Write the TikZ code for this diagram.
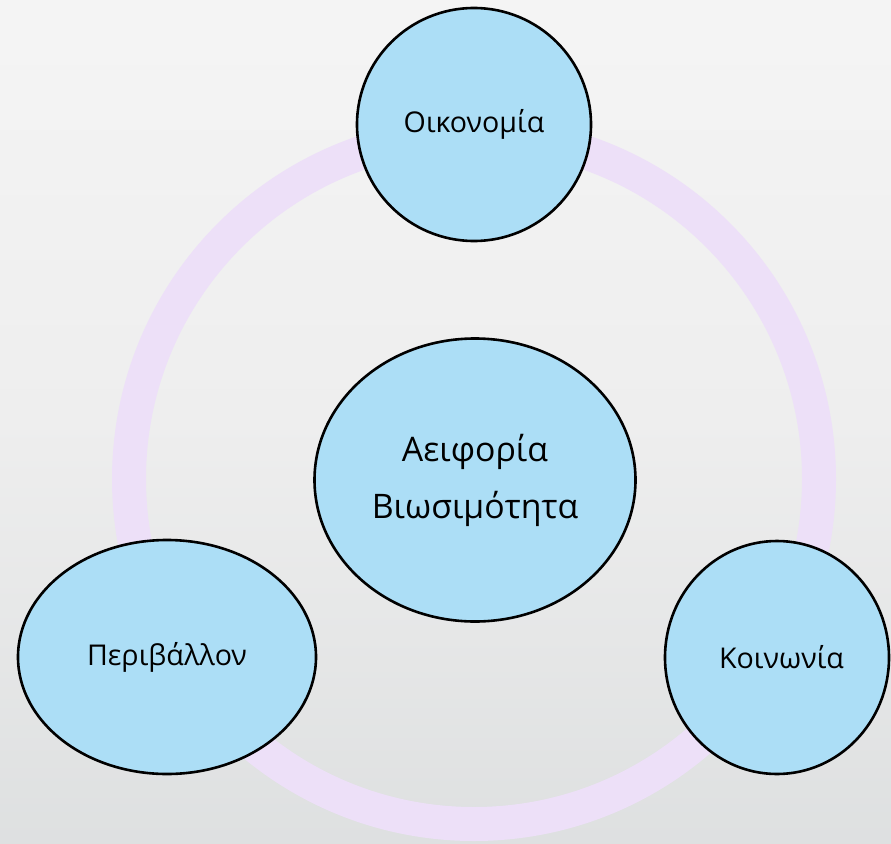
\documentclass[tikz,border=0pt]{standalone}
\usepackage{fontspec}
\setmainfont{Open Sans}
\usetikzlibrary{shapes.geometric}
\definecolor{bgtop}{RGB}{251,251,251}
\definecolor{bgmid}{RGB}{238,238,238}
\definecolor{bgbot}{RGB}{206,210,211}
\definecolor{ringcol}{RGB}{237,224,248}
\definecolor{fillblue}{RGB}{172,222,246}
\pgfdeclareverticalshading{bgshade}{100bp}{color(0bp)=(bgbot); color(50bp)=(bgmid); color(100bp)=(bgtop)}
\tikzset{
  bubble/.style={ellipse, draw=black, line width=2.6pt, fill=fillblue, inner sep=0pt, text=black, align=center},
  labelsmall/.style={font=\fontsize{28.6}{34}\selectfont},
}
\begin{document}
\begin{tikzpicture}[x=1pt,y=-1pt]
\useasboundingbox (0,0) rectangle (891,843);
\shade[shading=bgshade] (0,0) rectangle (891,843);
\draw[ringcol, line width=34pt] (474,479) circle[radius=345];
\node[bubble, labelsmall, minimum width=234pt, minimum height=233pt] (econ) at (474,124.5) {Οικονομία};
\node[bubble, font=\fontsize{33.8}{57}\selectfont, minimum width=321pt, minimum height=283pt] (center) at (475,480) {Αειφορία\\Βιωσιμότητα};
\node[bubble, labelsmall, minimum width=298pt, minimum height=234pt] (env) at (167,657) {Περιβάλλον};
\node[bubble, labelsmall, minimum width=224pt, minimum height=233pt] (soc) at (777,657.5) {\hspace*{9pt}Κοινωνία};
\end{tikzpicture}
\end{document}
